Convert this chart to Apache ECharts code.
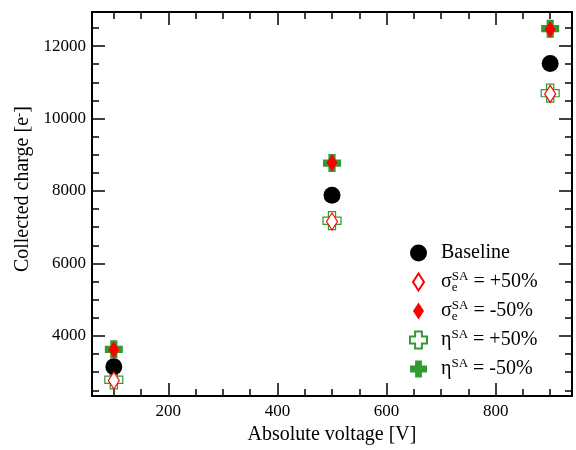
<!DOCTYPE html>
<html>
<head>
<meta charset="utf-8">
<script src="https://cdn.jsdelivr.net/npm/echarts@6/dist/echarts.min.js"></script>
<style>html,body{margin:0;padding:0;background:#fff}#c{width:576px;height:450px}</style>
</head>
<body>
<div id="c"></div>
<script>
const voltages = [100, 500, 900];
const baseline = [3150, 7880, 11520];
const sigmaPlus = [2770, 7160, 10680];
const sigmaMinus = [3620, 8780, 12460];
const etaPlus = [2790, 7180, 10700];
const etaMinus = [3630, 8770, 12480];

const xMin = 60, xMax = 940, yMin = 2340, yMax = 12940;
const xMajorTicks = [200, 400, 600, 800];
const xMinorTicks = [100, 150, 250, 300, 350, 450, 500, 550, 650, 700, 750, 850, 900];
const yMajorTicks = [4000, 6000, 8000, 10000, 12000];
const yMinorTicks = [2500, 3000, 3500, 4500, 5000, 5500, 6500, 7000, 7500, 8500, 9000, 9500, 10500, 11000, 11500, 12500];

const seriesNames = ['Baseline', 'sigmaPlus', 'sigmaMinus', 'etaPlus', 'etaMinus'];
const legendLabels = [
  'Baseline',
  'σ{sub|e}{sup|SA} = +50%',
  'σ{sub|e}{sup|SA} = -50%',
  'η{sup|SA} = +50%',
  'η{sup|SA} = -50%'
];

const FONT = 'Liberation Serif';
const RED = '#ff0000', GREEN = '#339933';
const CROSS = 'path://M3,0H7V3H10V7H7V10H3V7H0V3H3Z';
const DIAMOND = 'path://M5.5,0L11,8.5L5.5,17L0,8.5Z';

function fmt(v) { return String(v); }

function xAx(pos, ticks, len, labels, line) {
  return {
    type: 'value', position: pos, min: xMin, max: xMax,
    axisLine: {show: line, lineStyle: {color: '#000', width: 2}},
    axisTick: {show: true, inside: true, length: len, customValues: ticks, lineStyle: {color: '#000', width: 1.5}},
    axisLabel: {show: labels, customValues: ticks, formatter: fmt, margin: 7, color: '#000', fontFamily: FONT, fontSize: 17},
    splitLine: {show: false}
  };
}
function yAx(pos, ticks, len, labels, line) {
  return {
    type: 'value', position: pos, min: yMin, max: yMax,
    axisLine: {show: line, lineStyle: {color: '#000', width: 2}},
    axisTick: {show: true, inside: true, length: len, customValues: ticks, lineStyle: {color: '#000', width: 1.5}},
    axisLabel: {show: labels, customValues: ticks, formatter: fmt, margin: 6, color: '#000', fontFamily: FONT, fontSize: 17},
    splitLine: {show: false}
  };
}

const xAxes = [
  xAx('bottom', xMajorTicks, 13, true, true),
  xAx('top', xMajorTicks, 13, false, true),
  xAx('bottom', xMinorTicks, 7, false, false),
  xAx('top', xMinorTicks, 7, false, false)
];
Object.assign(xAxes[0], {
  name: 'Absolute voltage [V]', nameLocation: 'middle', nameGap: 24,
  nameTextStyle: {color: '#000', fontFamily: FONT, fontSize: 20}
});
const yAxes = [
  yAx('left', yMajorTicks, 13, true, true),
  yAx('right', yMajorTicks, 13, false, true),
  yAx('left', yMinorTicks, 7, false, false),
  yAx('right', yMinorTicks, 7, false, false)
];
Object.assign(yAxes[0], {
  name: 'Collected charge [e{s|-}]', nameLocation: 'middle', nameGap: 49,
  nameTextStyle: {color: '#000', fontFamily: FONT, fontSize: 20, padding: [0, 0, 0, 30],
    rich: {s: {fontSize: 13, fontFamily: FONT, color: '#000', verticalAlign: 'top'}}}
});

function pts(ys) { return voltages.map((v, i) => [v, ys[i]]); }

const option = {
  animation: false,
  backgroundColor: '#fff',
  grid: {left: 92, top: 12, right: 4, bottom: 47, containLabel: false},
  xAxis: xAxes,
  yAxis: yAxes,
  legend: {
    orient: 'vertical', left: 404, top: 236, itemGap: 5, itemWidth: 17, itemHeight: 17,
    data: [
      {name: seriesNames[0], icon: 'circle'},
      {name: seriesNames[1], icon: DIAMOND},
      {name: seriesNames[2], icon: DIAMOND},
      {name: seriesNames[3], icon: CROSS},
      {name: seriesNames[4], icon: CROSS}
    ],
    formatter: function (n) { return legendLabels[seriesNames.indexOf(n)]; },
    textStyle: {
      color: '#000', fontFamily: FONT, fontSize: 20, padding: [0, 0, 0, 9], lineHeight: 24,
      rich: {
        sub: {fontSize: 13, fontFamily: FONT, color: '#000', verticalAlign: 'bottom', width: 0, lineHeight: 24},
        sup: {fontSize: 13, fontFamily: FONT, color: '#000', verticalAlign: 'top', lineHeight: 24}
      }
    }
  },
  series: [
    {name: seriesNames[3], type: 'scatter', z: 2, data: pts(etaPlus), symbol: CROSS, symbolSize: 18,
      itemStyle: {color: '#fff', borderColor: GREEN, borderWidth: 1.2, opacity: 1}},
    {name: seriesNames[4], type: 'scatter', z: 2, data: pts(etaMinus), symbol: CROSS, symbolSize: 18,
      itemStyle: {color: GREEN, opacity: 1}},
    {name: seriesNames[0], type: 'scatter', z: 3, data: pts(baseline), symbol: 'circle', symbolSize: 17,
      itemStyle: {color: '#000', opacity: 1}},
    {name: seriesNames[1], type: 'scatter', z: 4, data: pts(sigmaPlus), symbol: DIAMOND, symbolSize: [11, 17],
      itemStyle: {color: '#fff', borderColor: RED, borderWidth: 1.2, opacity: 1}},
    {name: seriesNames[2], type: 'scatter', z: 4, data: pts(sigmaMinus), symbol: DIAMOND, symbolSize: [11, 17],
      itemStyle: {color: RED, opacity: 1}}
  ]
};
const chart = echarts.init(document.getElementById('c'), null, {renderer: 'canvas'});
chart.setOption(option);
</script>
</body>
</html>
